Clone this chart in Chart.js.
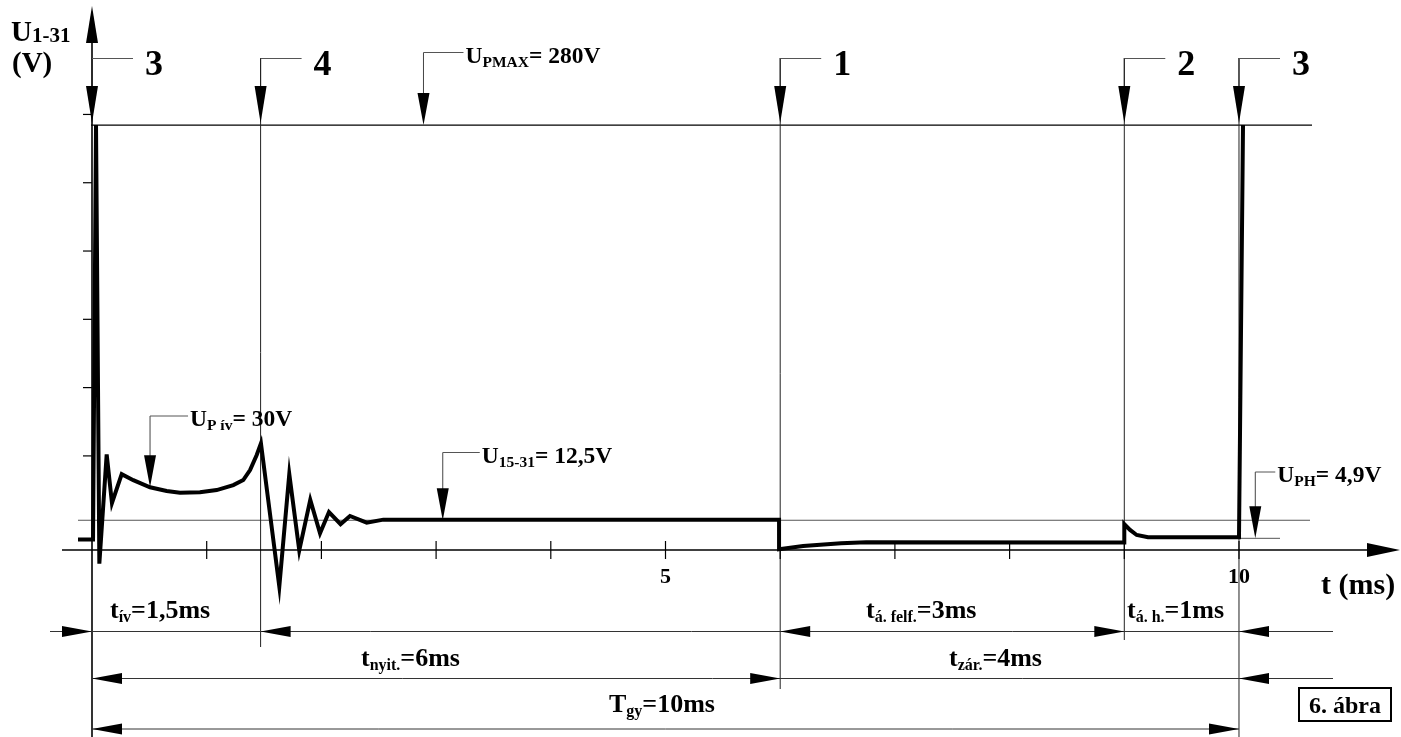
<!DOCTYPE html>
<html><head><meta charset="utf-8">
<script src="https://cdn.jsdelivr.net/npm/chart.js@4.4.1/dist/chart.umd.min.js"></script>
<style>html,body{margin:0;padding:0;background:#fff}#wrap{width:1401px;height:737px;position:relative}</style>
</head><body><div id="wrap"><canvas id="c"></canvas></div>
<script>
// ---- data (t in ms, U in V, drawing scale) ----
const timeMs = [-0.122, 0.009, 0.035, 0.064, 0.128, 0.174, 0.259, 0.36, 0.506, 0.651, 0.767, 0.941, 1.087, 1.232, 1.319, 1.378, 1.436, 1.473, 1.633, 1.72, 1.807, 1.903, 1.988, 2.066, 2.167, 2.249, 2.395, 2.54, 5.99, 5.99, 6.2, 6.53, 6.75, 9.0, 9.0, 9.05, 9.108, 9.207, 10.0, 10.035];
const voltage = [7, 7, 280, -9, 63, 31, 50, 46, 41.3, 38.9, 37.8, 38, 39.5, 42.8, 46.1, 52.7, 62.6, 70.3, -24, 50, -0.3, 33, 11, 25, 17, 22.4, 18, 20, 20, 0.5, 2.6, 4.4, 5.1, 5, 17, 13.2, 9.9, 8.4, 8.4, 280];
const xTicks = [1, 2, 3, 4, 5, 6, 7, 8, 9, 10];
const xLabelValues = [5, 10];
const xTickLabels = ['5', '10'];
const yTicks = [62, 107, 152, 197, 242, 287];
const markerTimes = [0, 1.47, 6, 9, 10];
const markerNames = ['3', '4', '1', '2', '3'];
const levelValues = [280, 19.6, 7.7];          // U_PMAX, U_15-31, U_PH reference levels
const valueLabels = [
  {x: 2.89, y: 280, main: 'U', sub: 'PMAX', rest: '= 280V'},
  {x: 0.506, y: 41.3, main: 'U', sub: 'P ív', rest: '= 30V'},
  {x: 3.058, y: 19.6, main: 'U', sub: '15-31', rest: '= 12,5V'},
  {x: 10.142, y: 7.7, main: 'U', sub: 'PH', rest: '= 4,9V'}
];
const spanLabels = [
  {main: 't', sub: 'ív', rest: '=1,5ms'},
  {main: 't', sub: 'nyit.', rest: '=6ms'},
  {main: 'T', sub: 'gy', rest: '=10ms'},
  {main: 't', sub: 'á. felf.', rest: '=3ms'},
  {main: 't', sub: 'á. h.', rest: '=1ms'},
  {main: 't', sub: 'zár.', rest: '=4ms'}
];

const FONT = '"Liberation Serif","Times New Roman",serif';
function f(sz) { return 'bold ' + sz + 'px ' + FONT; }

function seg(ctx, x1, y1, x2, y2, w, col) {
  ctx.save(); ctx.beginPath(); ctx.lineWidth = w || 1; ctx.strokeStyle = col || '#000';
  ctx.moveTo(x1, y1); ctx.lineTo(x2, y2); ctx.stroke(); ctx.restore();
}
function head(ctx, tx, ty, dir, len, half) {
  ctx.save(); ctx.beginPath(); ctx.fillStyle = '#000';
  ctx.moveTo(tx, ty);
  if (dir === 'down') { ctx.lineTo(tx - half, ty - len); ctx.lineTo(tx + half, ty - len); }
  else if (dir === 'up') { ctx.lineTo(tx - half, ty + len); ctx.lineTo(tx + half, ty + len); }
  else if (dir === 'left') { ctx.lineTo(tx + len, ty - half); ctx.lineTo(tx + len, ty + half); }
  else { ctx.lineTo(tx - len, ty - half); ctx.lineTo(tx - len, ty + half); }
  ctx.closePath(); ctx.fill(); ctx.restore();
}
function rich(ctx, lbl, x, y, big, small, subOff) {
  ctx.save(); ctx.fillStyle = '#000'; ctx.textBaseline = 'alphabetic'; ctx.textAlign = 'left';
  ctx.font = f(big); ctx.fillText(lbl.main, x, y); x += ctx.measureText(lbl.main).width;
  ctx.font = f(small); ctx.fillText(lbl.sub, x, y + subOff); x += ctx.measureText(lbl.sub).width;
  ctx.font = f(big); ctx.fillText(lbl.rest, x, y);
  ctx.restore();
}

const diagram = {
  id: 'diagram',
  beforeDatasetsDraw(chart) {
    const ctx = chart.ctx, X = v => chart.scales.x.getPixelForValue(v), Y = v => chart.scales.y.getPixelForValue(v);
    const x0 = X(0), yAx = Y(0);
    // reference levels
    seg(ctx, x0 - 1, Y(levelValues[0]), 1312, Y(levelValues[0]), 1.2, '#000');
    seg(ctx, 78, Y(levelValues[1]), 1310, Y(levelValues[1]), 1, '#555');
    seg(ctx, X(9.2), Y(levelValues[2]), 1280, Y(levelValues[2]), 1, '#555');
    // event marker lines
    const ends = [737, 647, 689, 640, 737];
    markerTimes.forEach((t, i) => { if (i > 0) seg(ctx, X(t), 58, X(t), ends[i], 1, '#222'); });
    // axes
    seg(ctx, 62, yAx, 1370, yAx, 1.6, '#000');
    head(ctx, 1400, yAx, 'right', 33, 7);
    seg(ctx, x0, 40, x0, 737, 1.6, '#000');
    head(ctx, x0, 6, 'up', 37, 6);
    xTicks.forEach(t => seg(ctx, X(t), yAx - 9, X(t), yAx + 9, 1.2, '#000'));
    yTicks.forEach(v => seg(ctx, x0 - 9, Y(v), x0, Y(v), 1.2, '#000'));
  },
  afterDatasetsDraw(chart) {
    const ctx = chart.ctx, X = v => chart.scales.x.getPixelForValue(v), Y = v => chart.scales.y.getPixelForValue(v);
    const yAx = Y(0);
    ctx.save();
    ctx.fillStyle = '#000';
    // tick labels
    ctx.font = f(22); ctx.textAlign = 'center'; ctx.textBaseline = 'alphabetic';
    xLabelValues.forEach((v, i) => ctx.fillText(xTickLabels[i], X(v), yAx + 33));
    ctx.textAlign = 'left'; ctx.font = f(30); ctx.fillText('t (ms)', 1321, 594);
    // y title
    ctx.font = f(29); ctx.fillText('U', 11, 41);
    const uw = ctx.measureText('U').width;
    ctx.font = f(21); ctx.fillText('1-31', 11 + uw, 42);
    ctx.font = f(29); ctx.fillText('(V)', 12, 72);
    // event callouts
    markerTimes.forEach((t, i) => {
      const x = X(t);
      seg(ctx, x, 58, x, 90, 1, '#222');
      seg(ctx, x, 58.5, x + 41, 58.5, 1, '#555');
      head(ctx, x, Y(280) - 2, 'down', 37, 6);
      ctx.font = f(36); ctx.textAlign = 'left'; ctx.fillStyle = '#000';
      ctx.fillText(markerNames[i], x + 53, 75);
    });
    // value callouts
    const tops = [52.5, 416, 452.5, 472];
    const arms = [40, 38, 37, 20];
    valueLabels.forEach((l, i) => {
      const x = X(l.x), tip = Y(l.y);
      seg(ctx, x, tops[i], x, tip - 20, 1, '#444');
      seg(ctx, x, tops[i], x + arms[i], tops[i], 1, '#555');
      head(ctx, x, tip, 'down', 32, 6);
      rich(ctx, l, x + arms[i] + 2, tops[i] + 10, 23.5, 15.5, 4);
    });
    // dimension rows
    const r1 = 631.5, r2 = 678.5, r3 = 729;
    const p0 = X(0), p1 = X(1.47), p6 = X(6), p9 = X(9), p10 = X(10);
    seg(ctx, 50, r1, 1333, r1, 1, '#333');
    head(ctx, p0, r1, 'right', 30, 5.5); head(ctx, p1, r1, 'left', 30, 5.5);
    head(ctx, p6, r1, 'left', 30, 5.5); head(ctx, p9, r1, 'right', 30, 5.5); head(ctx, p10, r1, 'left', 30, 5.5);
    seg(ctx, p0, r2, 1333, r2, 1, '#333');
    head(ctx, p0, r2, 'left', 30, 5.5); head(ctx, p6, r2, 'right', 30, 5.5); head(ctx, p10, r2, 'left', 30, 5.5);
    seg(ctx, p0, r3, p10, r3, 1, '#333');
    head(ctx, p0, r3, 'left', 30, 5.5); head(ctx, p10, r3, 'right', 30, 5.5);
    const spanPos = [[110, 618], [361, 666], [609, 712], [866, 618], [1127, 618], [949, 666]];
    spanLabels.forEach((l, i) => rich(ctx, l, spanPos[i][0], spanPos[i][1], 26, 16, 4));
    // figure box
    ctx.lineWidth = 2; ctx.strokeStyle = '#000';
    ctx.strokeRect(1299, 688, 92, 33);
    ctx.font = f(24); ctx.textAlign = 'center'; ctx.fillStyle = '#000';
    ctx.fillText('6. ábra', 1345, 713);
    ctx.restore();
  }
};

new Chart(document.getElementById('c'), {
  type: 'line',
  data: {
    datasets: [{
      label: 'U1-31',
      data: timeMs.map((t, i) => ({x: t, y: voltage[i]})),
      borderColor: '#000', borderWidth: 4, pointRadius: 0, tension: 0, fill: false,
      borderJoinStyle: 'miter', clip: false
    }]
  },
  options: {
    responsive: true, maintainAspectRatio: false, animation: false,
    layout: {padding: 0},
    plugins: {legend: {display: false}, tooltip: {enabled: false}},
    scales: {
      x: {type: 'linear', min: -0.8021, max: 11.4124, display: false},
      y: {type: 'linear', min: -123.22, max: 362.41, display: false}
    }
  },
  plugins: [diagram]
});
</script></body></html>
